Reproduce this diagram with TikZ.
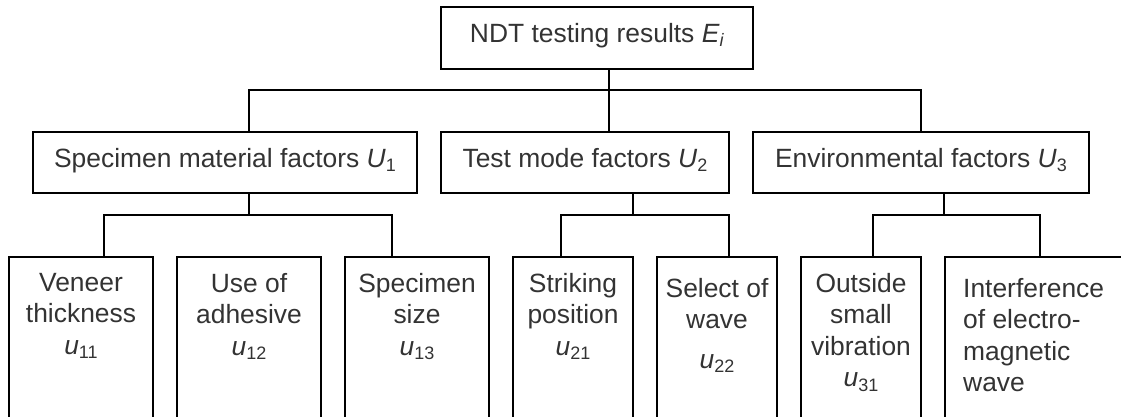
\documentclass[tikz,border=0pt]{standalone}
\usepackage{fontspec}
\setmainfont{Liberation Sans}
\definecolor{txt}{rgb}{0.2,0.2,0.2}
% italic symbol with a small lowered index
\newcommand{\sym}[2]{\textit{#1}\raisebox{-4.5pt}{\fontsize{18}{18}\selectfont #2}}
\begin{document}
\begin{tikzpicture}[x=1pt,y=-1pt,
  frame/.style={draw=black, line width=1.7pt, inner sep=0pt},
  conn/.style={draw=black, line width=1.6pt},
  lbl/.style={inner sep=0pt, text=txt, font=\fontsize{26.4}{31.5}\selectfont},
  leaf/.style={frame, minimum width=#1, minimum height=183pt}]
\useasboundingbox (0,0) rectangle (1121,416);
\clip (0,0) rectangle (1121,416);

% root
\node[frame, minimum width=312pt, minimum height=62pt] (top) at (597,38) {};
\node[lbl, anchor=base] (topT) at (597,42) {NDT testing results \sym{E}{\textit{i}}};

% factor groups
\node[frame, minimum width=384pt, minimum height=61pt] (u1) at (225,162.5) {};
\node[frame, minimum width=288pt, minimum height=61pt] (u2) at (585,162.5) {};
\node[frame, minimum width=336pt, minimum height=61pt] (u3) at (921,162.5) {};
\node[lbl, anchor=base] (u1T) at (225,167) {Specimen material factors \sym{U}{1}};
\node[lbl, anchor=base] (u2T) at (585,167) {Test mode factors \sym{U}{2}};
\node[lbl, anchor=base] (u3T) at (921,167) {Environmental factors \sym{U}{3}};

% single factors (their lower edges run past the page)
\node[leaf=144pt] (b11) at (81,348.5) {};
\node[leaf=144pt] (b12) at (249,348.5) {};
\node[leaf=144pt] (b13) at (417,348.5) {};
\node[leaf=120pt] (b21) at (573,348.5) {};
\node[leaf=120pt] (b22) at (717,348.5) {};
\node[leaf=120pt] (b31) at (861,348.5) {};
\node[leaf=195pt] (b32) at (1042.5,348.5) {};

\node[lbl, align=center, anchor=north] (b11T) at (81,273) {Veneer\\thickness\\\sym{u}{11}};
\node[lbl, align=center, anchor=north] (b12T) at (249,273) {Use of\\adhesive\\\sym{u}{12}};
\node[lbl, align=center, anchor=north] (b13T) at (417,273) {Specimen\\size\\\sym{u}{13}};
\node[lbl, align=center, anchor=north] (b21T) at (573,273) {Striking\\position\\\sym{u}{21}};
\node[lbl, align=center, anchor=north] (b22T) at (717,278) {Select of\\wave\\[8pt]\sym{u}{22}};
\node[lbl, align=center, anchor=north] (b31T) at (861,273) {Outside\\small\\vibration\\\sym{u}{31}};
\node[lbl, align=left, anchor=north west] (b32T) at (963,278) {Interference\\of electro-\\magnetic\\wave};

% junction points
\coordinate (h1) at (249,90);
\coordinate (h2) at (609,90);
\coordinate (h3) at (921,90);
\coordinate (g1) at (249,215);
\coordinate (g1l) at (104,215);
\coordinate (g1r) at (392,215);
\coordinate (g2) at (633,215);
\coordinate (g2l) at (561,215);
\coordinate (g2r) at (729,215);
\coordinate (g3) at (944,215);
\coordinate (g3l) at (873,215);
\coordinate (g3r) at (1040,215);

% root to factor groups
\draw[conn] (top.south -| h2) -- (u2.north -| h2);
\draw[conn] (u1.north -| h1) -- (h1) -- (h3) -- (u3.north -| h3);

% factor groups to single factors
\draw[conn] (u1.south -| g1) -- (g1);
\draw[conn] (b11.north -| g1l) -- (g1l) -- (g1r) -- (b13.north -| g1r);
\draw[conn] (u2.south -| g2) -- (g2);
\draw[conn] (b21.north -| g2l) -- (g2l) -- (g2r) -- (b22.north -| g2r);
\draw[conn] (u3.south -| g3) -- (g3);
\draw[conn] (b31.north -| g3l) -- (g3l) -- (g3r) -- (b32.north -| g3r);
\end{tikzpicture}
\end{document}
